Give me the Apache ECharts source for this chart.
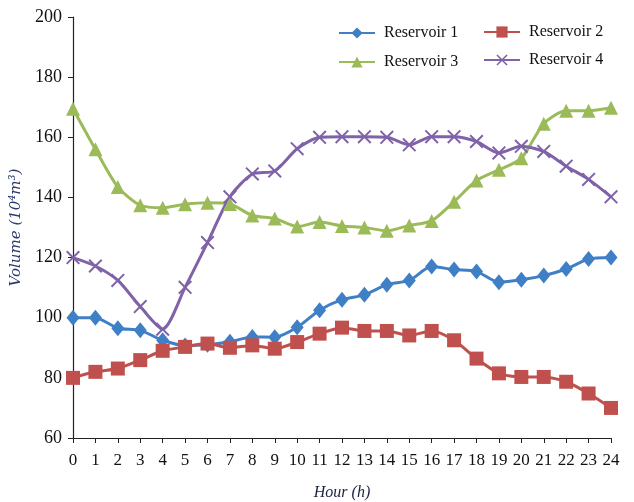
<!DOCTYPE html>
<html>
<head>
<meta charset="utf-8">
<script src="https://cdn.jsdelivr.net/npm/echarts@6/dist/echarts.min.js"></script>
<style>html,body{margin:0;padding:0;background:#fff}#c{width:634px;height:502px}</style>
</head>
<body>
<div id="c"></div>
<script>
const hours = ['0','1','2','3','4','5','6','7','8','9','10','11','12','13','14','15','16','17','18','19','20','21','22','23','24'];
const reservoir1 = [100,100,96.5,95.8,92.5,90.8,91,92,93.6,93.5,96.8,102.5,106,107.6,111,112.4,117,116,115.4,111.8,112.6,114,116.2,119.5,120];
const reservoir2 = [80,82,83.1,85.9,89,90.3,91.4,90,90.8,89.7,91.9,94.7,96.7,95.6,95.6,94.1,95.6,92.5,86.4,81.5,80.3,80.3,78.7,74.8,70];
const reservoir3 = [169.5,156,143.5,137.4,136.6,137.7,138.2,137.8,134,133,130.3,131.8,130.5,130,128.9,130.7,132.2,138.6,145.6,149.2,153,164.5,168.8,168.8,169.8];
const reservoir4 = [120,117.2,112.4,103.7,96.2,110.1,125,140.2,147.8,148.8,156.2,160,160.2,160.2,160,157.5,160.2,160.2,158.6,154.8,157,155.3,150.4,146,140.2];
const yTicks = {min: 60, max: 200, step: 20};

const crossPath = 'path://M0,1L1,0L10,9L9,10Z M9,0L10,1L1,10L0,9Z';

const serif = 'Liberation Serif';
function mk(name, data, color, symbol, size) {
  return {
    name, type: 'line', data, smooth: 0.25,
    symbol, symbolSize: size,
    lineStyle: {color, width: 3},
    itemStyle: {color, borderWidth: 0},
    emphasis: {disabled: true}
  };
}
const chart = echarts.init(document.getElementById('c'), null, {renderer: 'canvas'});
chart.setOption({
  animation: false,
  backgroundColor: '#fff',
  grid: {left: 73, right: 23, top: 17, bottom: 64, containLabel: false, outerBoundsMode: 'none'},
  legend: [
    {data: ['Reservoir 1', 'Reservoir 3'], orient: 'vertical', left: 333, top: 20, itemWidth: 36, itemHeight: 14, itemGap: 13,
     textStyle: {fontFamily: serif, fontSize: 16, color: '#111', padding: [0,0,0,4]}},
    {data: ['Reservoir 2', 'Reservoir 4'], orient: 'vertical', left: 478, top: 19, itemWidth: 36, itemHeight: 14, itemGap: 12,
     textStyle: {fontFamily: serif, fontSize: 16, color: '#111', padding: [0,0,0,4]}}
  ],
  xAxis: {
    type: 'category', data: hours, boundaryGap: false,
    name: 'Hour (h)', nameLocation: 'middle', nameGap: 47,
    nameTextStyle: {fontFamily: serif, fontStyle: 'italic', fontSize: 16, color: '#1a2240'},
    axisLine: {lineStyle: {color: '#222', width: 1.2}},
    axisTick: {show: true, length: 5, lineStyle: {color: '#222'}, interval: 0},
    axisLabel: {fontFamily: serif, fontSize: 17, color: '#111', margin: 14, interval: 0},
    splitLine: {show: false}
  },
  yAxis: {
    type: 'value', min: yTicks.min, max: yTicks.max, interval: yTicks.step,
    name: 'Volume (10⁴m³)', nameLocation: 'middle', nameGap: 46, nameRotate: 90,
    nameTextStyle: {fontFamily: 'DejaVu Serif', fontStyle: 'italic', fontSize: 15, color: '#2a3a6a'},
    axisLine: {show: true, lineStyle: {color: '#222', width: 1.2}},
    axisTick: {show: true, length: 5, lineStyle: {color: '#222'}},
    axisLabel: {fontFamily: serif, fontSize: 18, color: '#111', margin: 11},
    splitLine: {show: false}
  },
  series: [
    mk('Reservoir 1', reservoir1, '#3f7fc6', 'diamond', [13, 16]),
    mk('Reservoir 2', reservoir2, '#c0504d', 'rect', 14),
    mk('Reservoir 3', reservoir3, '#9bbb59', 'triangle', 14),
    mk('Reservoir 4', reservoir4, '#7f62a8', crossPath, 14)
  ]
});
</script>
</body>
</html>
